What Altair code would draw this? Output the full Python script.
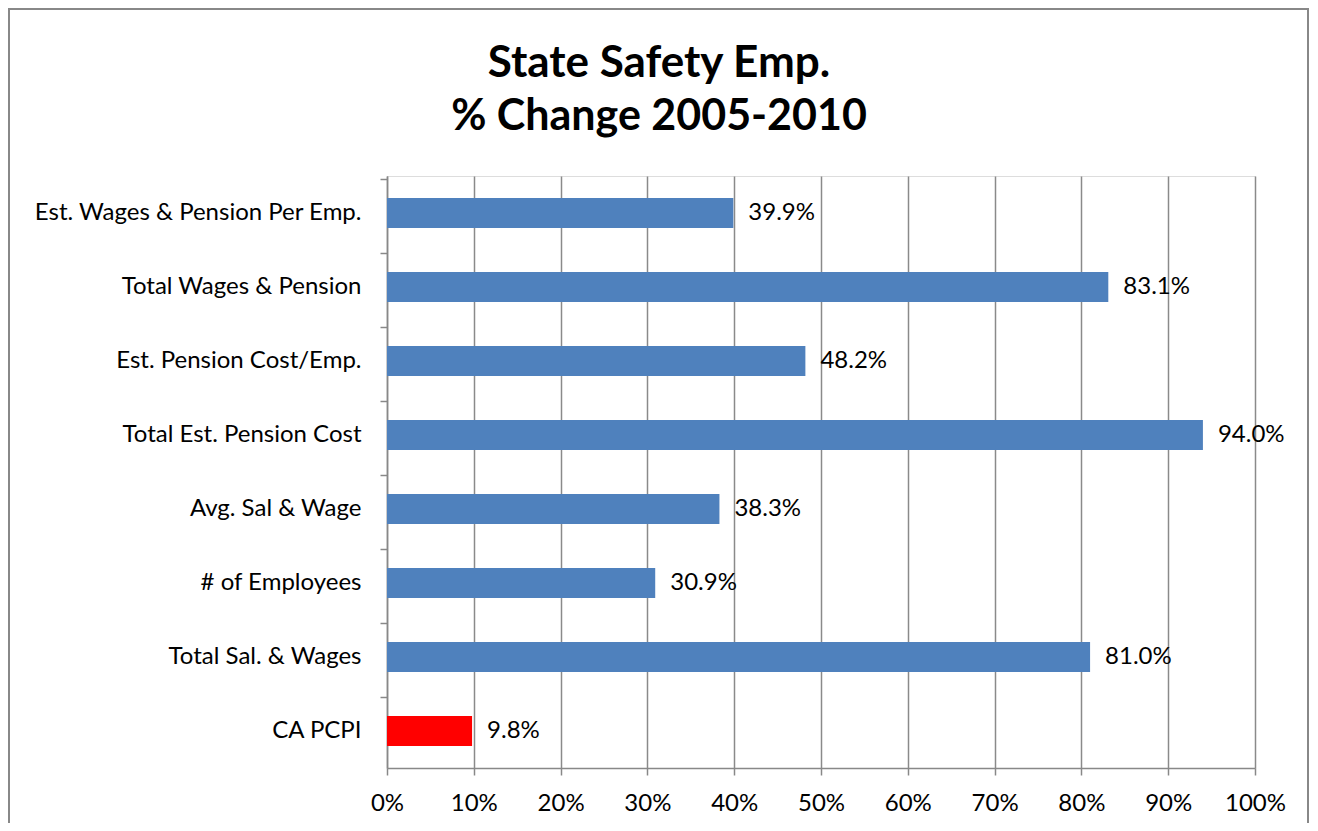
import altair as alt
import pandas as pd

categories = [
    "Est. Wages & Pension Per Emp.",
    "Total Wages & Pension",
    "Est. Pension Cost/Emp.",
    "Total Est. Pension Cost",
    "Avg. Sal & Wage",
    "# of Employees",
    "Total Sal. & Wages",
    "CA PCPI",
]
values = [39.9, 83.1, 48.2, 94.0, 38.3, 30.9, 81.0, 9.8]
bar_colors = ["#4F81BD"] * 7 + ["#FF0000"]
title_lines = ["State Safety Emp.", "% Change 2005-2010"]

df = pd.DataFrame({
    "cat": categories,
    "val": [v / 100 for v in values],
    "color": bar_colors,
    "label": [f"{v:.1f}%" for v in values],
})

FONT = "Lato"
FS = 24

y_enc = alt.Y("cat:N", sort=categories, title=None,
              axis=alt.Axis(bandPosition=0, tickSize=7, tickColor="#888888",
                            domainColor="#888888", domainWidth=1.5, tickWidth=1.5,
                            labelPadding=19, labelFontSize=FS, labelFont=FONT,
                            labelLimit=500, labelColor="#000000", grid=False))
x_scale = alt.Scale(domain=[0, 1], nice=False)

bars = alt.Chart(df).mark_bar(size=30).encode(
    x=alt.X("val:Q", scale=x_scale, title=None,
            axis=alt.Axis(format="%", values=[i / 10 for i in range(11)],
                          grid=True, gridColor="#8a8a8a", gridWidth=1.5,
                          tickSize=7, tickColor="#888888", tickWidth=1.5,
                          domainColor="#888888", domainWidth=1.5,
                          labelFlush=False, labelOverlap=False,
                          labelPadding=16, labelFontSize=FS, labelFont=FONT,
                          labelColor="#000000")),
    y=y_enc,
    color=alt.Color("color:N", scale=None),
)

labels = alt.Chart(df).mark_text(align="left", baseline="middle", dx=15,
                                 fontSize=FS, font=FONT, color="#000000").encode(
    x=alt.X("val:Q", scale=x_scale),
    y=alt.Y("cat:N", sort=categories),
    text="label:N",
)

frame = alt.Chart(pd.DataFrame({"k": [0]})).mark_rect(
    fill=None, stroke="#888888", strokeWidth=2).encode(
    x=alt.value(-378), x2=alt.value(921), y=alt.value(-167), y2=alt.value(700)
)

title1 = alt.Chart(pd.DataFrame({"t": [title_lines[0]]})).mark_text(
    align="center", baseline="alphabetic", fontSize=44, fontWeight="bold",
    font=FONT, color="#000000").encode(
    x=alt.value(272), y=alt.value(-99), text="t:N")
title2 = alt.Chart(pd.DataFrame({"t": [title_lines[1]]})).mark_text(
    align="center", baseline="alphabetic", fontSize=43, fontWeight="bold",
    font=FONT, color="#000000").encode(
    x=alt.value(272), y=alt.value(-46), text="t:N")

chart = alt.layer(frame, bars, labels, title1, title2).properties(
    width=868, height=592,
    padding={"left": 379, "top": 168, "right": 54, "bottom": 55},
    autosize=alt.AutoSizeParams(type="none"),
).configure_view(stroke=None).configure(background="white")

chart.save("out.html", embed_options={"renderer": "svg", "actions": False})
